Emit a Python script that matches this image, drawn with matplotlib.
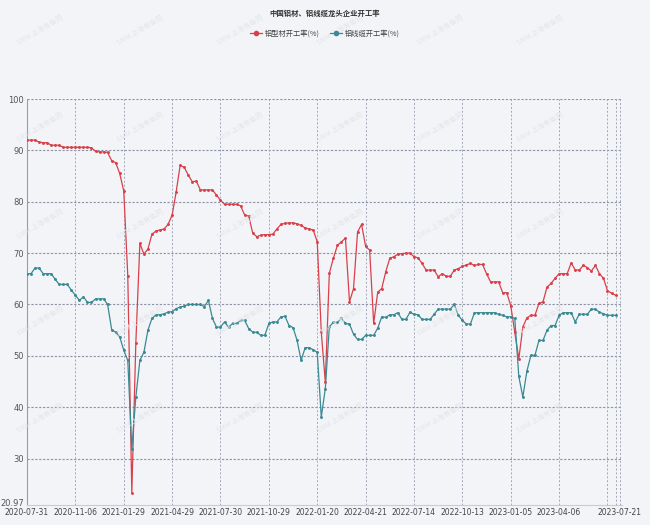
import matplotlib
matplotlib.use("Agg")
import matplotlib.pyplot as plt
from matplotlib.transforms import ScaledTranslation

plt.rcParams['font.family'] = ['Noto Sans CJK SC', 'DejaVu Sans']

# weekly operating rates
profile_rate = [
    92.0, 92.0, 92.0, 91.6, 91.5, 91.5, 91.0, 91.0, 91.0, 90.6,
    90.6, 90.6, 90.6, 90.6, 90.6, 90.6, 90.5, 89.8, 89.7, 89.7,
    89.6, 88.0, 87.6, 85.5, 82.1, 65.6, 23.4, 52.6, 71.9, 69.8,
    70.8, 73.7, 74.3, 74.5, 74.7, 75.6, 77.4, 81.9, 87.1, 86.7,
    85.2, 83.9, 84.0, 82.3, 82.3, 82.3, 82.3, 81.3, 80.3, 79.5,
    79.5, 79.5, 79.5, 79.2, 77.4, 77.2, 73.9, 73.2, 73.5, 73.6,
    73.6, 73.7, 74.7, 75.6, 75.8, 75.9, 75.9, 75.7, 75.4, 74.9,
    74.7, 74.5, 72.2, 54.6, 44.9, 66.1, 69.0, 71.5, 72.2, 72.9,
    60.5, 63.1, 74.1, 75.6, 71.3, 70.6, 56.3, 62.4, 63.1, 66.4,
    69.0, 69.3, 69.8, 69.9, 70.0, 70.0, 69.3, 69.1, 68.0, 66.7,
    66.7, 66.7, 65.4, 66.0, 65.5, 65.5, 66.7, 67.0, 67.4, 67.7,
    68.0, 67.6, 67.8, 67.8, 66.0, 64.4, 64.4, 64.4, 62.3, 62.3,
    59.8, 54.6, 49.4, 55.6, 57.4, 57.9, 57.9, 60.2, 60.5, 63.4,
    64.1, 65.1, 66.0, 66.0, 66.0, 68.1, 66.7, 66.7, 67.6, 67.2,
    66.5, 67.6, 66.0, 65.1, 62.7, 62.2, 61.8,
]
cable_rate = [
    66.0, 66.0, 67.1, 67.1, 66.0, 66.0, 66.0, 64.9, 63.9, 63.9,
    63.9, 62.8, 61.8, 60.8, 61.5, 60.4, 60.4, 61.1, 61.1, 61.1,
    60.0, 55.1, 54.6, 53.7, 51.1, 49.1, 31.9, 42.0, 49.1, 50.7,
    55.0, 57.3, 58.0, 58.0, 58.2, 58.5, 58.6, 59.2, 59.5, 59.7,
    60.0, 60.0, 60.0, 60.0, 59.6, 60.8, 57.3, 55.6, 55.6, 56.6,
    55.6, 56.3, 56.3, 56.9, 56.9, 55.3, 54.6, 54.6, 54.0, 54.0,
    56.3, 56.6, 56.6, 57.6, 57.7, 55.9, 55.5, 53.0, 49.1, 51.6,
    51.6, 51.2, 50.7, 38.1, 43.6, 55.7, 56.5, 56.5, 57.3, 56.3,
    56.2, 54.2, 53.2, 53.2, 54.0, 54.0, 54.0, 55.4, 57.6, 57.5,
    58.0, 58.0, 58.4, 57.1, 57.1, 58.5, 58.1, 58.0, 57.1, 57.1,
    57.1, 58.1, 59.1, 59.1, 59.1, 59.1, 60.0, 57.9, 56.9, 56.2,
    56.2, 58.4, 58.4, 58.4, 58.4, 58.4, 58.4, 58.1, 57.9, 57.6,
    57.6, 57.3, 46.0, 42.0, 47.0, 50.1, 50.1, 53.0, 53.0, 55.0,
    55.9, 55.9, 57.9, 58.4, 58.4, 58.4, 56.6, 58.1, 58.1, 58.1,
    59.1, 59.1, 58.5, 58.2, 57.9, 57.9, 57.9,
]
tick_idx = [0, 12, 24, 36, 48, 60, 72, 84, 96, 108, 120, 132, 147]
tick_labels = ["2020-07-31", "2020-11-06", "2021-01-29", "2021-04-29",
               "2021-07-30", "2021-10-29", "2022-01-20", "2022-04-21",
               "2022-07-14", "2022-10-13", "2023-01-05", "2023-04-06",
               "2023-07-21"]
extra_grid = [144, 146]
y_ticks = [20.97, 30, 40, 50, 60, 70, 80, 90, 100]

bg = '#f3f4f7'
red = '#d8404b'
teal = '#3a8a93'

fig = plt.figure(figsize=(6.5, 5.25), dpi=100, facecolor=bg)
ax = fig.add_axes([27/650, 1 - 505/525, 595/650, 406/525], facecolor=bg)

# faint watermark
for wx in range(40, 640, 100):
    for wy in range(30, 480, 97):
        fig.text(wx/650, 1 - wy/525, "SMM 上海有色网", fontsize=5, color='#e4e5ea',
                 rotation=30, ha='center', va='center', zorder=0)

x = list(range(len(profile_rate)))
ax.plot(x, profile_rate, color=red, lw=0.9, marker='o', ms=1.1, label='铝型材开工率(%)', zorder=3)
ax.plot(x, cable_rate, color=teal, lw=0.9, marker='o', ms=1.1, label='铝线缆开工率(%)', zorder=3)

ax.set_xlim(0, 147.6)
ax.set_ylim(20.97, 100)
ax.set_yticks(y_ticks)
ax.set_yticklabels(["20.97"] + [str(v) for v in y_ticks[1:]])
ax.set_xticks(tick_idx)
ax.set_xticklabels(tick_labels)

for v in y_ticks[1:]:
    ax.axhline(v, color='#8d91a6', lw=0.8, ls=(0, (2, 1.5)), zorder=1)
for t in tick_idx + extra_grid:
    ax.axvline(t, color='#a3a7b9', lw=0.7, ls=(0, (2, 2)), zorder=1)

for s in ['top', 'right']:
    ax.spines[s].set_visible(False)
ax.spines['left'].set_color('#9a9cab')
ax.spines['left'].set_linewidth(0.8)
ax.spines['bottom'].set_color('#c9cadf')
ax.spines['bottom'].set_linewidth(0.8)

narrow = ['Liberation Sans Narrow', 'DejaVu Sans']
ax.tick_params(length=0, pad=2)
for lab in ax.get_xticklabels():
    lab.set_family(narrow)
    lab.set_fontsize(5.5)
    lab.set_color('#444444')
for lab in ax.get_yticklabels():
    lab.set_family(narrow)
    lab.set_fontsize(6)
    lab.set_color('#555555')
# lift the 20.97 label a little so it clears the date labels
ylabs = ax.get_yticklabels()
ylabs[0].set_transform(ylabs[0].get_transform() + ScaledTranslation(0, 3/100, fig.dpi_scale_trans))

fig.text(0.5, 1 - 13/525, "中国铝材、铝线缆龙头企业开工率", ha='center', va='center',
         fontsize=5.3, fontweight='bold', color='#333333')
leg = fig.legend(loc='center', bbox_to_anchor=(0.5, 1 - 34/525), ncol=2, frameon=False,
                 fontsize=5.2, handlelength=1.6, columnspacing=1.5, handletextpad=0.4)
for line in leg.get_lines():
    line.set_markersize(3)
for t in leg.get_texts():
    t.set_color('#444444')

fig.savefig("out.png", dpi=100, facecolor=bg)
